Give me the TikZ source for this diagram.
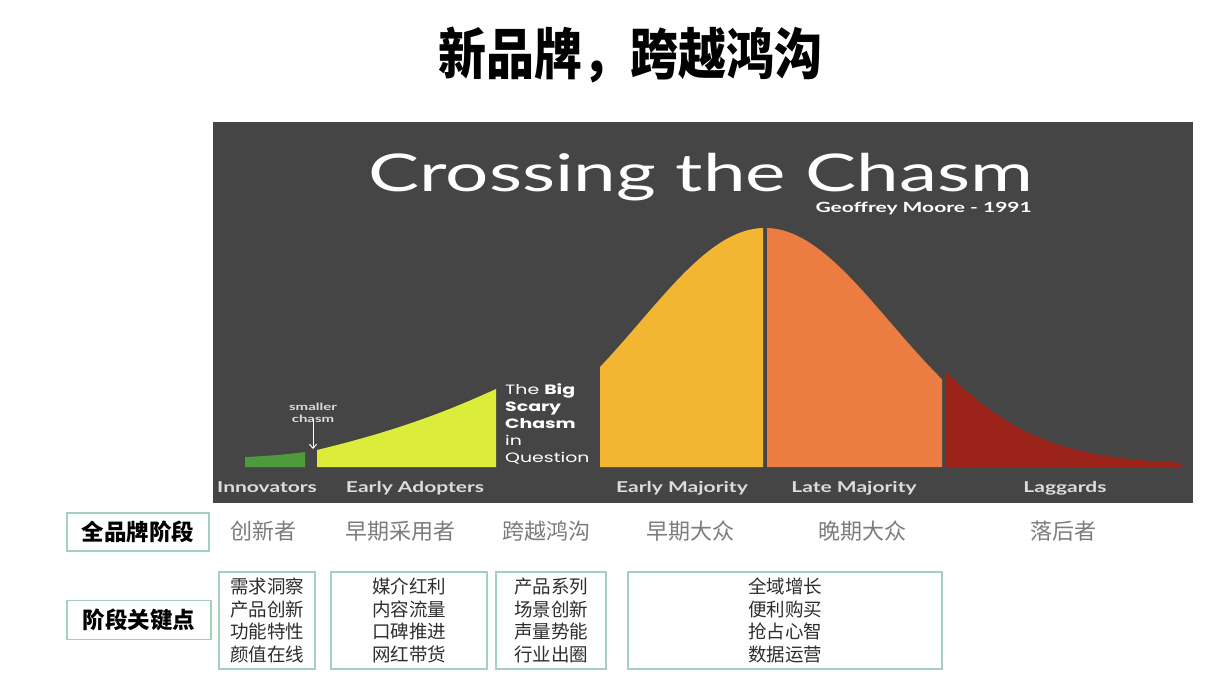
\documentclass[tikz,border=0pt]{standalone}
\usepackage{fontspec}
\usetikzlibrary{arrows.meta}
\setmainfont{Lato}
\newfontfamily\cjk{Noto Sans CJK SC}
\newfontfamily\pop{Poppins}
\newcommand{\sx}[1]{\scalebox{1.4}[1]{#1}}
\definecolor{panel}{HTML}{454545}
\definecolor{innov}{HTML}{4F9A3C}
\definecolor{adopt}{HTML}{DCEC3A}
\definecolor{early}{HTML}{F2B632}
\definecolor{late}{HTML}{EC7D42}
\definecolor{lag}{HTML}{9B2219}
\definecolor{boxline}{HTML}{A4D0BC}
\definecolor{stagegray}{HTML}{7C7C7C}
\definecolor{bodytext}{HTML}{2E2E2E}
\definecolor{lbl}{HTML}{DCDCDC}
\tikzset{
  curvelabel/.style={text=lbl, font=\bfseries\fontsize{15}{15}\selectfont, anchor=base, inner sep=0pt},
  stagelabel/.style={text=stagegray, font=\cjk\fontsize{22}{22}\selectfont},
  headbox/.style={draw=boxline, line width=1.3pt, text=black, font=\cjk\bfseries\fontsize{22.5}{22.5}\selectfont, minimum width=142pt, minimum height=38pt, inner sep=0pt},
  keybox/.style={draw=boxline, line width=1.3pt, text=bodytext, align=center, font=\cjk\fontsize{18.5}{22.7}\selectfont, minimum height=97pt, inner sep=0pt},
}
\begin{document}
\begin{tikzpicture}[x=1pt,y=-1pt]
\useasboundingbox[fill=white] (0,0) rectangle (1228,688);
% title
\node[font=\cjk\bfseries\fontsize{48}{48}\selectfont, text=black] (title) at (630,55) {\scalebox{1}[1.15]{新品牌，跨越鸿沟}};
% panel
\fill[panel] (213,122) rectangle (1193,503);
\node[text=white, anchor=base, font=\fontsize{52}{52}\selectfont, inner sep=0pt] (chasmtitle) at (701,191) {\scalebox{1.47}[1]{Crossing the Chasm}};
\node[text=white, anchor=base east, font=\bfseries\fontsize{14}{14}\selectfont, inner sep=0pt] (moore) at (1032,212) {\scalebox{1.5}[1]{Geoffrey Moore - 1991}};
% curves
\fill[innov] (245,467) -- (245,457) .. controls (270,456) and (290,454) .. (305,452) -- (305,467) -- cycle;
\fill[adopt] (317,467) -- (317,450) .. controls (400,430) and (450,410) .. (496,389) -- (496,467) -- cycle;
\fill[early] (600,467) -- plot[domain=600:763,samples=80] (\x,{467-239*exp(-0.5*((\x-765)/125)^2)}) -- (763,467) -- cycle;
\fill[late] (767,467) -- plot[domain=767:942,samples=80] (\x,{467-239*exp(-0.5*((\x-765)/125)^2)}) -- (942,467) -- cycle;
\fill[lag] (946,467) -- plot[domain=946:1180,samples=80] (\x,{467-239*exp(-0.5*((\x-765)/128)^2)-4*(1183-\x)/237-3}) to[out=0,in=0,looseness=1.5] (1180,467) -- cycle;
% smaller chasm
\node[text=lbl, align=center, font=\bfseries\fontsize{10}{12.5}\selectfont, inner sep=0pt] (small) at (313,413) {\scalebox{1.5}[1]{smaller}\\\scalebox{1.5}[1]{chasm}};
\coordinate (gap) at (313,449);
\draw[white, line width=1pt, -{Straight Barb[length=4pt,width=7pt]}] ([yshift=4pt]small.south) -- (gap);
% big scary chasm
\node[text=white, anchor=north west, align=left, inner sep=0pt, font=\pop\fontsize{13.5}{17.2}\selectfont] (scary) at (505,383) {\sx{The \textbf{Big}}\\\sx{\textbf{Scary}}\\\sx{\textbf{Chasm}}\\\sx{in}\\\sx{Question}};
% curve labels
\node[curvelabel] (l1) at (267,492) {\sx{Innovators}};
\node[curvelabel] (l2) at (415,492) {\sx{Early Adopters}};
\node[curvelabel] (l3) at (682,492) {\sx{Early Majority}};
\node[curvelabel] (l4) at (854,492) {\sx{Late Majority}};
\node[curvelabel] (l5) at (1065,492) {\sx{Laggards}};
% stage row
\node[headbox] (stagehead) at (138,532) {全品牌阶段};
\node[stagelabel] (s1) at (263,531) {创新者};
\node[stagelabel] (s2) at (400,531) {早期采用者};
\node[stagelabel] (s3) at (546,531) {跨越鸿沟};
\node[stagelabel] (s4) at (690,531) {早期大众};
\node[stagelabel] (s5) at (862,531) {晚期大众};
\node[stagelabel] (s6) at (1063,531) {落后者};
% key points
\node[headbox, minimum width=144pt, minimum height=39pt] (keyhead) at (139,620) {阶段关键点};
\node[keybox, minimum width=96pt] (k1) at (267,620.5) {需求洞察\\产品创新\\功能特性\\颜值在线};
\node[keybox, minimum width=156pt] (k2) at (409,620.5) {媒介红利\\内容流量\\口碑推进\\网红带货};
\node[keybox, minimum width=110pt] (k3) at (551,620.5) {产品系列\\场景创新\\声量势能\\行业出圈};
\node[keybox, minimum width=314pt] (k4) at (785,620.5) {全域增长\\便利购买\\抢占心智\\数据运营};
\end{tikzpicture}
\end{document}
